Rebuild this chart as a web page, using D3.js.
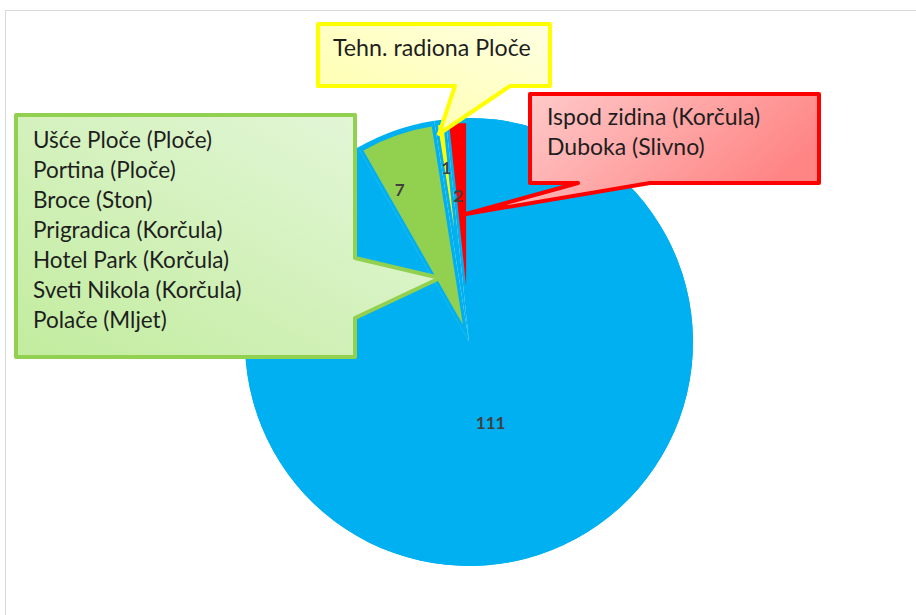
<!DOCTYPE html>
<html>
<head>
<meta charset="utf-8">
<script src="https://cdn.jsdelivr.net/npm/d3@7"></script>
<style>
  html, body { margin: 0; padding: 0; background: #fff; }
  svg { display: block; font-family: Lato, "Open Sans", sans-serif; }
</style>
</head>
<body>
<svg id="chart"></svg>
<script>
// podaci
const categories = ["Ostalo", "Grupa A", "Tehn. radiona Ploče", "Grupa B"];
const values = [111, 7, 1, 2];
const colors = ["#00B0F0", "#92D050", "#FFFF00", "#FF0000"];

const yellowLines = ["Tehn. radiona Ploče"];
const redLines = ["Ispod zidina (Korčula)", "Duboka (Slivno)"];
const greenLines = [
  "Ušće Ploče (Ploče)",
  "Portina (Ploče)",
  "Broce (Ston)",
  "Prigradica (Korčula)",
  "Hotel Park (Korčula)",
  "Sveti Nikola (Korčula)",
  "Polače (Mljet)"
];

const width = 916, height = 615;
const svg = d3.select("#chart").attr("width", width).attr("height", height);

// okvir grafikona
svg.append("rect")
  .attr("x", 5.5).attr("y", 10.5)
  .attr("width", 1000).attr("height", 1000)
  .attr("fill", "none").attr("stroke", "#D9D9D9");

const cx = 469, cy = 342, R = 224;
// izvlačenje malih isječaka i položaj oznaka
const explode = [0, 13, 75, 37];
const labelR = [84, 154, 100, 109];
const labelShift = [0, -0.098, 0, -0.03];

const pie = d3.pie().sort(null).value(d => d)(values);

const g = svg.append("g").attr("transform", `translate(${cx},${cy})`);

// podloga (plavi disk ispod izvučenih isječaka)
g.selectAll("path.base")
  .data(pie)
  .join("path")
  .attr("class", "base")
  .attr("d", d3.arc().innerRadius(0).outerRadius(R))
  .attr("fill", colors[0]);

const off = (d, i) => {
  const a = (d.startAngle + d.endAngle) / 2;
  return [Math.sin(a) * explode[i], -Math.cos(a) * explode[i]];
};

g.selectAll("path.slice")
  .data(pie)
  .join("path")
  .attr("class", "slice")
  .attr("transform", (d, i) => `translate(${off(d, i)})`)
  .attr("d", (d, i) => d3.arc().innerRadius(0).outerRadius(i === 0 ? R : R - 4 - explode[i])(d))
  .attr("fill", (d, i) => colors[i])
  .attr("stroke", (d, i) => i === 0 ? "none" : colors[0])
  .attr("stroke-width", 2);

// oznake vrijednosti
g.selectAll("text.lbl")
  .data(pie)
  .join("text")
  .attr("class", "lbl")
  .attr("transform", (d, i) => {
    const a = (d.startAngle + d.endAngle) / 2 + labelShift[i];
    const o = off(d, i);
    return `translate(${Math.sin(a) * labelR[i] + o[0]},${-Math.cos(a) * labelR[i] + o[1]})`;
  })
  .attr("text-anchor", "middle")
  .attr("dy", "0.35em")
  .attr("font-size", "17px")
  .attr("font-weight", "bold")
  .attr("fill", "#404040")
  .text(d => d.data);

// oblačići
const defs = svg.append("defs");
function grad(id, c1, c2, x1, y1, x2, y2) {
  const lg = defs.append("linearGradient").attr("id", id)
    .attr("x1", x1).attr("y1", y1).attr("x2", x2).attr("y2", y2);
  lg.append("stop").attr("offset", "0%").attr("stop-color", c1);
  lg.append("stop").attr("offset", "100%").attr("stop-color", c2);
}
grad("gGreen", "#C2EC9E", "#E6F7DD", "0", "1", "1", "0");
grad("gYellow", "#FFFFA6", "#FFFFE2", "0", "1", "1", "0");
grad("gRed", "#FFD6D6", "#FF8585", "0", "0", "1", "0.4");

const callouts = [
  { path: "M16,115 H355 V258 L440,278 L355,318 V357 H16 Z", fill: "url(#gGreen)", stroke: "#92D050",
    lines: greenLines, x: 33, y: 148, dy: 30, size: 22.5 },
  { path: "M318,24 H550 V86 H510 L439,134 L455,86 H318 Z", fill: "url(#gYellow)", stroke: "#FFFF00",
    lines: yellowLines, x: 333, y: 55.5, dy: 30, size: 23.2 },
  { path: "M530,94 H819 V183 H650 L466,214 L578,183 H530 Z", fill: "url(#gRed)", stroke: "#FF0000",
    lines: redLines, x: 547, y: 124.5, dy: 30, size: 23 }
];

callouts.forEach(c => {
  svg.append("path")
    .attr("d", c.path)
    .attr("fill", c.fill)
    .attr("stroke", c.stroke)
    .attr("stroke-width", 4)
    .attr("stroke-linejoin", "round");
  svg.append("g").selectAll("text")
    .data(c.lines)
    .join("text")
    .attr("x", c.x)
    .attr("y", (d, i) => c.y + i * c.dy)
    .attr("font-size", c.size + "px")
    .attr("fill", "#1E1E1E")
    .text(d => d);
});
</script>
</body>
</html>
